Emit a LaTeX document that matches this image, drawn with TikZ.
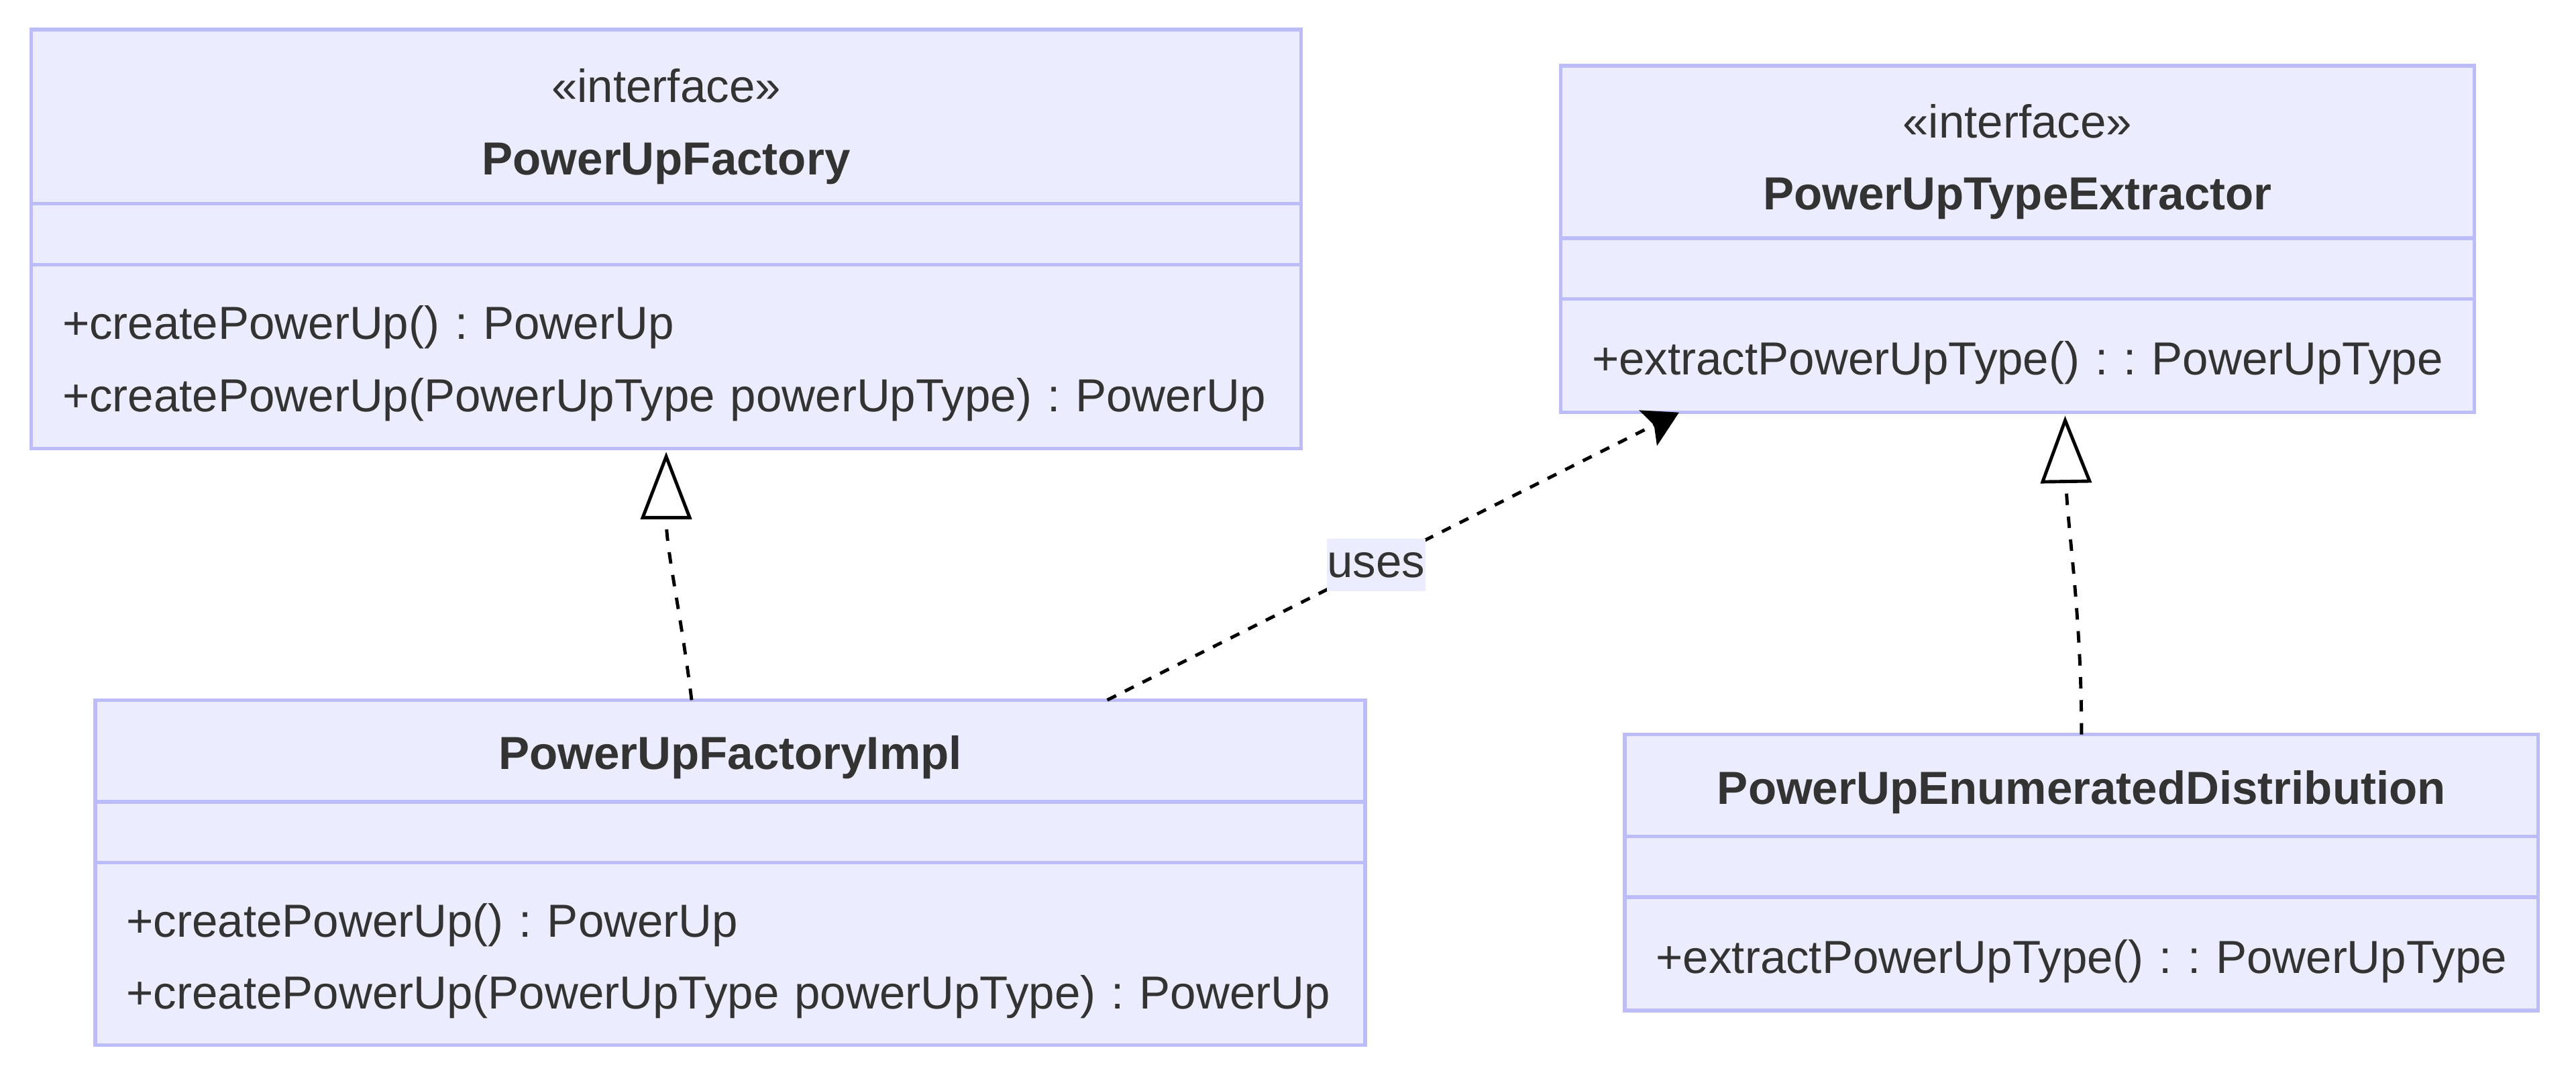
\documentclass[tikz,border=0pt]{standalone}
\usepackage{fontspec}
\setmainfont{Liberation Sans}
\usetikzlibrary{calc,positioning,arrows.meta}
\definecolor{classfill}{RGB}{236,236,255}
\definecolor{classline}{RGB}{188,188,248}
\definecolor{classtext}{RGB}{51,51,51}

\begin{document}
\begin{tikzpicture}[x=1pt, y=-1pt, font=\fontsize{28.2}{44}\selectfont\frenchspacing, text=classtext,
  part/.style={draw=classline,fill=classfill,line width=2.2pt,inner sep=0pt,outer sep=0pt},
  title/.style={align=center,inner sep=0pt},
  ops/.style={part,align=left,inner xsep=19pt,anchor=north,execute at begin node={\rule{0pt}{29pt}}},
  realize/.style={line width=2pt,dash pattern=on 7pt off 7pt,-{Triangle[open,length=41pt,width=31pt]}},
  depend/.style={line width=2pt,dash pattern=on 6pt off 6pt,-{Stealth[length=21pt,width=24pt,inset=4pt]}},
  tag/.style={fill=classfill,inner sep=0pt,minimum width=60pt,minimum height=32pt}]
\useasboundingbox (0,0) rectangle (1568,659);
\node[part,minimum width=773pt,minimum height=106pt] (factory-head) at (405.5,71) {};
\node[part,minimum width=556pt,minimum height=105pt] (ext-head) at (1228,92.5) {};
\node[part,minimum width=773pt,minimum height=62pt] (impl-head) at (444.5,457) {};
\node[part,minimum width=556pt,minimum height=62pt] (dist-head) at (1267,478) {};
\node[title] (factory-name) at ($(factory-head)+(0,6)$) {«interface»\\\textbf{PowerUpFactory}};
\node[title] (ext-name) at ($(ext-head)+(0,6)$) {«interface»\\\textbf{PowerUpTypeExtractor}};
\node[title] (impl-name) at ($(impl-head)+(0,4)$) {\textbf{PowerUpFactoryImpl}};
\node[title] (dist-name) at ($(dist-head)+(0,4)$) {\textbf{PowerUpEnumeratedDistribution}};
\foreach \n/\w in {factory/773,ext/556,impl/773,dist/556} {
    \node[part,anchor=north,minimum width=\w pt,minimum height=37pt] (\n-attr) at (\n-head.south) {};
}
\node[ops,text width=735pt,minimum height=112pt] (factory-ops) at (factory-attr.south) {+createPowerUp() : PowerUp\\+createPowerUp(PowerUpType powerUpType) : PowerUp};
\node[ops,text width=518pt,minimum height=69pt] (ext-ops) at (ext-attr.south) {+extractPowerUpType() : : PowerUpType};
\node[ops,text width=735pt,minimum height=111pt] (impl-ops) at (impl-attr.south) {+createPowerUp() : PowerUp\\+createPowerUp(PowerUpType powerUpType) : PowerUp};
\node[ops,text width=518pt,minimum height=69pt] (dist-ops) at (dist-attr.south) {+extractPowerUpType() : : PowerUpType};
\draw[realize] ($(impl-head.north)+(-23.5,0)$) .. controls +(-7,-56) and +(0,60) .. ($(factory-ops.south)+(0,2)$);
\draw[depend] ($(impl-head.north)+(229.5,0)$) -- node[tag,pos=0.47] (uses) {uses} ($(ext-ops.south)+(-206,0)$);
\draw[realize] (dist-head.north) .. controls +(0,-75) and +(1,65) .. ($(ext-ops.south)+(29,2)$);
\end{tikzpicture}
\end{document}
